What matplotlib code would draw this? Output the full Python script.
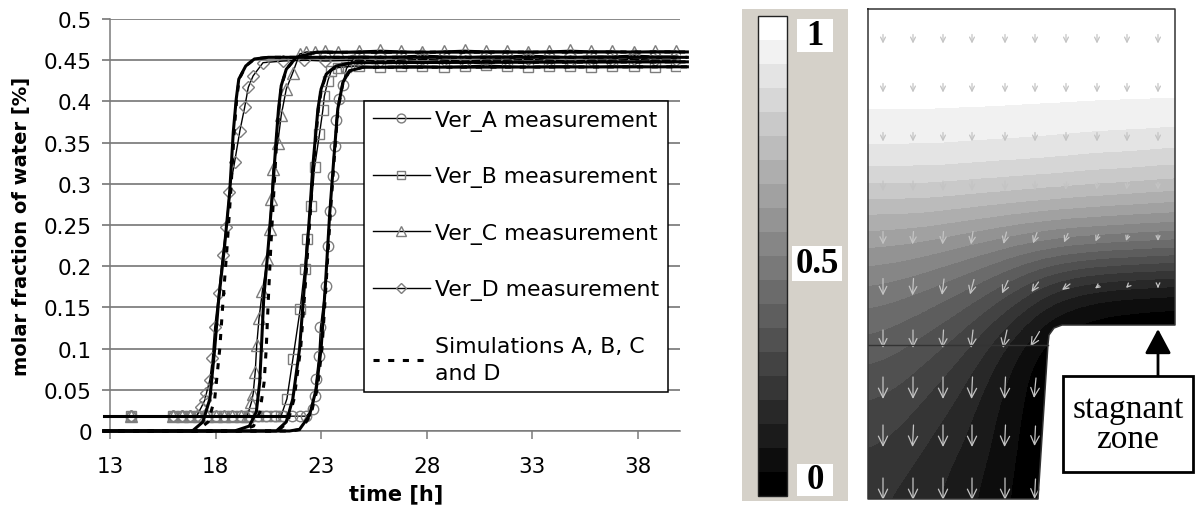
import numpy as np
import matplotlib
matplotlib.use("Agg")
import matplotlib.pyplot as plt
from matplotlib.colors import ListedColormap, BoundaryNorm
from matplotlib.patches import Rectangle, Polygon
from matplotlib.cm import ScalarMappable

plt.rcParams['font.family'] = ['DejaVu Sans']

# ---------------- data: left chart ----------------
x_ticks = [13, 18, 23, 28, 33, 38]
y_ticks = [0, 0.05, 0.1, 0.15, 0.2, 0.25, 0.3, 0.35, 0.4, 0.45, 0.5]
y_tick_labels = ["0", "0.05", "0.1", "0.15", "0.2", "0.25", "0.3", "0.35", "0.4", "0.45", "0.5"]
x_label = "time [h]"
y_label = "molar fraction of water [%]"
legend_labels = ["Ver_A measurement", "Ver_B measurement", "Ver_C measurement",
                 "Ver_D measurement", "Simulations A, B, C\nand D"]

plateau_t = [24.8, 25.8, 26.8, 27.8, 28.8, 29.8, 30.8, 31.8, 32.8, 33.8, 34.8, 35.8, 36.8, 37.8, 38.8, 39.8]

meas_A_t = [14.0, 16.0, 16.4, 16.8, 17.2, 17.6, 18.0, 18.4, 18.8, 19.2, 19.6, 20.0, 20.4, 20.8, 21.2, 21.6, 22.0, 22.3,
            22.61, 22.69, 22.77, 22.89, 22.97, 23.21, 23.32, 23.4, 23.55, 23.65, 23.71, 23.87, 24.03, 24.2, 24.5] + plateau_t
meas_A_v = [0.018] * 18 + [0.027, 0.043, 0.063, 0.091, 0.126, 0.176, 0.225, 0.267, 0.31, 0.346, 0.377, 0.403, 0.42, 0.44, 0.45] + \
           [0.455, 0.454, 0.455, 0.456, 0.455, 0.454, 0.455, 0.455, 0.456, 0.455, 0.454, 0.455, 0.455, 0.456, 0.455, 0.455]

meas_B_t = [14.0, 16.0, 16.4, 16.8, 17.2, 17.6, 18.0, 18.4, 18.8, 19.2, 19.6, 20.0, 20.4, 20.8, 21.1,
            21.38, 21.66, 22.01, 22.22, 22.32, 22.53, 22.69, 22.92, 23.08, 23.15, 23.32, 23.48, 23.8, 24.2] + plateau_t
meas_B_v = [0.018] * 15 + [0.039, 0.087, 0.148, 0.197, 0.233, 0.273, 0.32, 0.36, 0.389, 0.406, 0.425, 0.437, 0.441, 0.442] + \
           [0.443, 0.442, 0.443, 0.443, 0.442, 0.443, 0.444, 0.443, 0.442, 0.443, 0.443, 0.442, 0.443, 0.443, 0.442, 0.443]

meas_C_t = [14.0, 16.0, 16.4, 16.8, 17.2, 17.6, 18.0, 18.4, 18.8, 19.2, 19.5,
            19.7, 19.78, 19.88, 19.95, 20.06, 20.22, 20.45, 20.56, 20.64, 20.72, 20.95, 21.11, 21.35, 21.66,
            21.98, 22.3, 22.7, 23.2, 23.8] + plateau_t
meas_C_v = [0.018] * 11 + [0.035, 0.045, 0.072, 0.104, 0.137, 0.17, 0.209, 0.245, 0.282, 0.318, 0.35, 0.383, 0.415, 0.435,
                           0.4575, 0.46, 0.46, 0.461, 0.46] + \
           [0.461, 0.462, 0.461, 0.460, 0.461, 0.462, 0.461, 0.461, 0.460, 0.461, 0.462, 0.461, 0.461, 0.460, 0.461, 0.461]

meas_D_t = [14.0, 16.0, 16.4, 16.8, 17.1, 17.33, 17.5, 17.57, 17.73, 17.85, 17.96, 18.15, 18.33, 18.5, 18.65,
            18.9, 19.15, 19.38, 19.55, 19.78, 20.25, 21.2, 22.2, 23.2] + plateau_t
meas_D_v = [0.018] * 5 + [0.029, 0.038, 0.046, 0.062, 0.088, 0.126, 0.168, 0.213, 0.247, 0.29, 0.326, 0.364, 0.393,
                          0.417, 0.431, 0.447, 0.449, 0.45, 0.449] + \
           [0.450, 0.449, 0.450, 0.451, 0.450, 0.449, 0.450, 0.450, 0.451, 0.450, 0.449, 0.450, 0.450, 0.451, 0.450, 0.450]

baseline_t = [12.7, 21.3]
baseline_v = [0.018, 0.018]

sim_A_t = [12.7, 21.5, 21.98, 22.45, 22.77, 23.0, 23.21, 23.4, 23.6, 23.79, 24.03, 24.34, 24.97, 40.35]
sim_A_v = [0, 0, 0.002, 0.019, 0.051, 0.1, 0.18, 0.261, 0.33, 0.391, 0.423, 0.437, 0.4414, 0.442]
simd_A_t = [12.7, 21.6, 22.05, 22.5, 22.82, 23.04, 23.24, 23.43, 23.62, 23.8, 24.04, 24.35, 24.97, 40.35]
simd_A_v = [0, 0, 0.002, 0.019, 0.051, 0.1, 0.18, 0.261, 0.33, 0.391, 0.423, 0.437, 0.4414, 0.442]

sim_B_t = [12.7, 20.88, 21.35, 21.66, 21.98, 22.22, 22.45, 22.61, 22.85, 23.0, 23.24, 23.71, 24.5, 40.35]
sim_B_v = [0, 0, 0.011, 0.039, 0.1, 0.18, 0.261, 0.322, 0.391, 0.415, 0.433, 0.443, 0.447, 0.448]
simd_B_t = [12.7, 20.95, 21.42, 21.72, 22.03, 22.26, 22.48, 22.64, 22.87, 23.02, 23.25, 23.71, 24.5, 40.35]
simd_B_v = [0, 0, 0.011, 0.039, 0.1, 0.18, 0.261, 0.322, 0.391, 0.415, 0.433, 0.443, 0.447, 0.448]

sim_C_t = [12.7, 18.9, 19.6, 19.93, 20.09, 20.17, 20.28, 20.5, 20.7, 20.86, 20.98, 21.11, 21.35, 21.82, 22.77, 40.35]
sim_C_v = [0, 0, 0.006, 0.023, 0.059, 0.1, 0.16, 0.225, 0.29, 0.35, 0.39, 0.419, 0.439, 0.4535, 0.4596, 0.46]
simd_C_t = [12.7, 19.1, 19.8, 20.1, 20.3, 20.4, 20.5, 20.62, 20.76, 20.89, 21.0, 21.12, 21.36, 21.82, 22.77, 40.35]
simd_C_v = [0, 0, 0.006, 0.023, 0.059, 0.1, 0.16, 0.225, 0.29, 0.35, 0.39, 0.419, 0.439, 0.4535, 0.4596, 0.46]

sim_D_t = [12.7, 16.9, 17.4, 17.73, 17.96, 18.15, 18.43, 18.67, 18.84, 18.98, 19.1, 19.43, 19.84, 20.5, 40.35]
sim_D_v = [0, 0, 0.011, 0.039, 0.1, 0.16, 0.225, 0.29, 0.363, 0.403, 0.427, 0.443, 0.4515, 0.4535, 0.4535]
simd_D_t = [12.7, 17.1, 17.65, 17.96, 18.2, 18.36, 18.55, 18.72, 18.88, 19.0, 19.12, 19.43, 19.84, 20.5, 40.35]
simd_D_v = [0, 0, 0.011, 0.039, 0.1, 0.16, 0.225, 0.29, 0.363, 0.403, 0.427, 0.443, 0.4515, 0.4535, 0.4535]

# ---------------- data: right panel (water fraction field) ----------------
cbar_labels = ["1", "0.5", "0"]
stagnant_label = "stagnant\nzone"
# rows: depth from top 0 .. 1 (step 0.1); columns: left 0 .. right 1 (step 0.1)
field_rows = [
    [1.0, 1.0, 1.0, 1.0, 1.0, 1.0, 1.0, 1.0, 1.0, 1.0, 1.0],
    [1.0, 1.0, 1.0, 1.0, 1.0, 1.0, 1.0, 1.0, 1.0, 1.0, 1.0],
    [0.957, 0.957, 0.956, 0.955, 0.954, 0.952, 0.950, 0.948, 0.946, 0.945, 0.944],
    [0.89, 0.89, 0.89, 0.885, 0.88, 0.875, 0.87, 0.86, 0.855, 0.85, 0.84],
    [0.73, 0.73, 0.73, 0.72, 0.71, 0.70, 0.69, 0.68, 0.67, 0.66, 0.65],
    [0.58, 0.57, 0.55, 0.52, 0.49, 0.45, 0.42, 0.40, 0.39, 0.38, 0.37],
    [0.46, 0.44, 0.41, 0.37, 0.31, 0.23, 0.13, 0.07, 0.04, 0.03, 0.02],
    [0.37, 0.35, 0.31, 0.26, 0.18, 0.08, 0.0, 0.0, 0.0, 0.0, 0.0],
    [0.30, 0.28, 0.24, 0.19, 0.12, 0.05, 0.0, 0.0, 0.0, 0.0, 0.0],
    [0.25, 0.23, 0.19, 0.15, 0.10, 0.04, 0.0, 0.0, 0.0, 0.0, 0.0],
    [0.21, 0.19, 0.16, 0.12, 0.08, 0.03, 0.0, 0.0, 0.0, 0.0, 0.0],
]
# domain geometry in panel pixels (x right, y down)
outline_x = [0, 307, 307, 194, 186, 181, 180, 170, 0, 0]
outline_y = [0, 0, 316, 316, 319, 326, 335, 490, 490, 0]
cut_x = [307, 194, 186, 181, 180, 170, 307]
cut_y = [316, 316, 319, 326, 335, 490, 490]
inner_line_x = [0, 180]
inner_line_y = [336, 336]
# velocity arrows (pixels): positions and vectors (u right, v down)
arrow_cols = [15, 45, 75, 104, 137, 167, 198, 229, 259, 290]
arrow_rows = [30, 79, 128, 177, 229, 278, 330, 379, 427, 480]
nan = float('nan')
arrow_u = [
    [0, 0, 0, 0, 0, 0, 0, 0, 0, 0],
    [0, 0, 0, 0, 0, 0, 0, 0, 0, 0],
    [0, 0, 0, 0, 0, 0, 0, 0, 0, 0],
    [0, 0, 0, 0, 0, 0, -1, -1, -1, 0],
    [0, -1, -1, -2, -3, -4, -4, -3, -2, 0],
    [0, -1, -2, -4, -6, -7, -8, -4, -2, 0],
    [0, 0, -1, -2, -4, -9, nan, nan, nan, nan],
    [0, 0, 0, -1, -1, -2, nan, nan, nan, nan],
    [0, -1, 0, 0, -1, -1, nan, nan, nan, nan],
    [0, 0, 0, 0, 0, -1, nan, nan, nan, nan],
]
arrow_v = [
    [9, 9, 9, 9, 9, 9, 9, 9, 9, 9],
    [9, 9, 9, 9, 9, 9, 9, 9, 9, 9],
    [9, 9, 9, 9, 9, 9, 9, 9, 9, 9],
    [10, 10, 10, 10, 10, 9, 8, 7, 7, 7],
    [13, 13, 13, 13, 12, 11, 9, 7, 6, 6],
    [17, 17, 16, 15, 13, 10, 6, 3, 2, 2],
    [18, 18, 18, 18, 18, 15, nan, nan, nan, nan],
    [22, 22, 22, 22, 22, 20, nan, nan, nan, nan],
    [22, 22, 22, 22, 22, 20, nan, nan, nan, nan],
    [22, 22, 22, 22, 22, 20, nan, nan, nan, nan],
]

# ---------------- figure ----------------
W, H = 1196, 506
fig = plt.figure(figsize=(W / 100, H / 100), dpi=100)
fig.patch.set_facecolor('white')


def frect(x0, y0, x1, y1):
    return [x0 / W, 1 - y1 / H, (x1 - x0) / W, (y1 - y0) / H]


# ----- left chart -----
ax = fig.add_axes(frect(110, 20, 680, 432))
ax.set_xlim(13, 40)
ax.set_ylim(0, 0.5)
ax.set_yticks(y_ticks, y_tick_labels)
ax.set_xticks(x_ticks)
grid_c = '#6a6a6a'
ax.yaxis.grid(True, color=grid_c, lw=1.1)
ax.set_axisbelow(True)
for s in ['top', 'right']:
    ax.spines[s].set_visible(False)
for s in ['left', 'bottom']:
    ax.spines[s].set_color('#7a7a7a')
    ax.spines[s].set_linewidth(1.1)
ax.tick_params(axis='y', direction='out', length=6, width=1.1, color=grid_c, labelsize=15.5, pad=7)
ax.tick_params(axis='x', direction='out', length=6, width=1.1, color='#7a7a7a', labelsize=15.5, pad=12)

mstyle = dict(color='black', lw=1.0, mfc='none', mec='#7d7d7d', mew=1.0, zorder=2)
hA, = ax.plot(meas_A_t, meas_A_v, marker='o', ms=7.5, **mstyle)
hB, = ax.plot(meas_B_t, meas_B_v, marker='s', ms=7, **mstyle)
hC, = ax.plot(meas_C_t, meas_C_v, marker='^', ms=8, **mstyle)
hD, = ax.plot(meas_D_t, meas_D_v, marker='D', ms=6.5, **mstyle)

ax.plot(baseline_t, baseline_v, color='black', lw=2.2, clip_on=False, zorder=3)
for t, v in [(sim_A_t, sim_A_v), (sim_B_t, sim_B_v), (sim_C_t, sim_C_v), (sim_D_t, sim_D_v)]:
    ax.plot(t, v, color='black', lw=2.2, clip_on=False, zorder=3)
hS = None
for t, v in [(simd_A_t, simd_A_v), (simd_B_t, simd_B_v), (simd_C_t, simd_C_v), (simd_D_t, simd_D_v)]:
    hS, = ax.plot(t, v, color='black', lw=2.2, ls=(0, (2.0, 2.8)), clip_on=False, zorder=3)

leg = ax.legend([hA, hB, hC, hD, hS], legend_labels, loc='upper left',
                bbox_to_anchor=(0.4456, 0.801, 0.5334, 0.0), mode='expand', fontsize=15.8,
                frameon=True, fancybox=False, edgecolor='black', framealpha=1,
                borderpad=0.4, labelspacing=1.62, handlelength=2.6, handletextpad=0.25,
                borderaxespad=0, markerscale=0.85)
leg.get_frame().set_linewidth(1.1)
leg.get_texts()[4].set_linespacing(1.45)

fig.text(22 / W, 1 - 226 / H, y_label, rotation=90, ha='center', va='center',
         fontsize=14, fontweight='bold')
fig.text(396 / W, 1 - 494 / H, x_label, ha='center', va='center', fontsize=15, fontweight='bold')

# ----- colour scale -----
gray_colors = [(g, g, g) for g in np.linspace(0, 1, 20)]
cmap = ListedColormap(gray_colors)
cmap.set_over('white')
cmap.set_under('black')
norm = BoundaryNorm(np.linspace(0, 1, 21), 20)

axbg = fig.add_axes(frect(742, 10, 848, 502))
axbg.set_facecolor('#d5d1c9')
axbg.set_xticks([])
axbg.set_yticks([])
for s in axbg.spines.values():
    s.set_visible(False)

axcb = fig.add_axes(frect(758, 17, 787, 497))
cb = fig.colorbar(ScalarMappable(norm=norm, cmap=cmap), cax=axcb, ticks=[])
cb.minorticks_off()
cb.outline.set_linewidth(1.0)
cb.outline.set_edgecolor('#222222')

label_boxes = [(797, 20, 833, 53), (792, 247, 842, 282), (797, 465, 833, 497)]
for (x0, y0, x1, y1), lab in zip(label_boxes, cbar_labels):
    fig.add_artist(Rectangle((x0 / W, 1 - y1 / H), (x1 - x0) / W, (y1 - y0) / H,
                             transform=fig.transFigure, fc='white', ec='none'))
    fig.text((x0 + x1) / 2 / W, 1 - (y0 + y1) / 2 / H, lab, ha='center', va='center',
             family='Liberation Serif', fontweight='bold', fontsize=25)

# ----- field panel -----
axf = fig.add_axes(frect(868, 10, 1175, 500))
field = np.array(field_rows)
dx = 307 / (field.shape[1] - 1)
dy = 490 / (field.shape[0] - 1)
axf.imshow(field, cmap=cmap, norm=norm, interpolation='bicubic', interpolation_stage='data',
           extent=(-dx / 2, 307 + dx / 2, 490 + dy / 2, -dy / 2), aspect='auto', origin='upper')
axf.set_xlim(0, 307)
axf.set_ylim(490, 0)
axf.set_xticks([])
axf.set_yticks([])
for s in axf.spines.values():
    s.set_visible(False)
axf.add_patch(Polygon(list(zip(cut_x, cut_y)), closed=True, fc='white', ec='none', zorder=2))
axf.plot(outline_x, outline_y, color='#333333', lw=1.1, zorder=4, clip_on=False)
axf.plot(inner_line_x, inner_line_y, color='#333333', lw=1.0, zorder=4)

for r, yc in enumerate(arrow_rows):
    for c, xc in enumerate(arrow_cols):
        u = arrow_u[r][c]
        v = arrow_v[r][c]
        if np.isnan(u) or np.isnan(v):
            continue
        length = np.hypot(u, v)
        axf.annotate('', xy=(xc + u / 2, yc + v / 2), xytext=(xc - u / 2, yc - v / 2),
                     arrowprops=dict(arrowstyle='->,head_length=0.45,head_width=0.22',
                                     mutation_scale=max(6, 0.55 * length + 3),
                                     color='#c4c4c4', lw=0.9, shrinkA=0, shrinkB=0),
                     zorder=3, annotation_clip=False)

# stagnant zone label
fig.add_artist(Rectangle((1063 / W, 1 - 473 / H), 130 / W, 96 / H, transform=fig.transFigure,
                         fc='white', ec='black', lw=2, zorder=5))
fig.text(1128 / W, 1 - 425 / H, stagnant_label, ha='center', va='center', family='Liberation Serif',
         fontsize=24, linespacing=1.0, zorder=6)
axf.annotate('', xy=(1158 / W, 1 - 330 / H), xycoords='figure fraction',
             xytext=(1158 / W, 1 - 377 / H), textcoords='figure fraction',
             arrowprops=dict(arrowstyle='-|>,head_length=0.75,head_width=0.4', mutation_scale=20,
                             color='black', lw=2, shrinkA=0, shrinkB=0), zorder=6)

fig.savefig('out.png', dpi=100)
